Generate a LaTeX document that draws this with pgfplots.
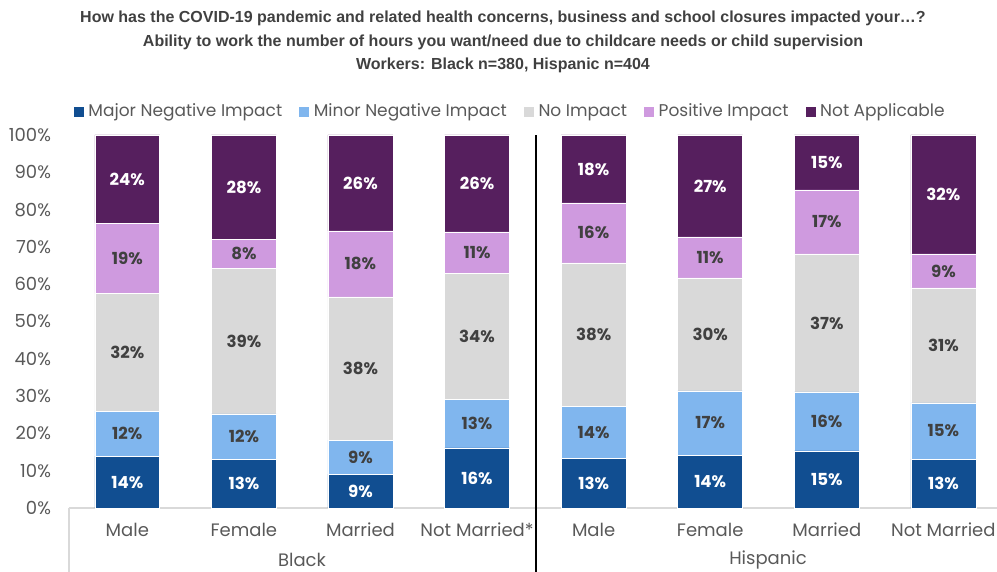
\documentclass[border=0pt]{standalone}
\usepackage{pgfplots}
\pgfplotsset{compat=1.18}
\usepackage{pgfplotstable}
\usepackage{fontspec}
\setmainfont{Poppins}
\newfontfamily\titlefont{Liberation Sans}
\definecolor{majc}{RGB}{17,78,145}
\definecolor{minc}{RGB}{128,182,238}
\definecolor{noc}{RGB}{217,217,217}
\definecolor{posc}{RGB}{207,154,223}
\definecolor{nac}{RGB}{86,31,94}
\definecolor{labgray}{RGB}{89,89,89}
\definecolor{darklab}{RGB}{64,64,64}
\definecolor{axgray}{RGB}{217,217,217}

\pgfplotstableread{
x maj majl mn mnl no nol pos posl na nal
0 13.9 14 12.1 12 31.6 32 18.8 19 23.6 24
1 13.1 13 12.1 12 39.1 39 7.8 8 27.9 28
2 9.1 9 9.1 9 38.4 38 17.7 18 25.7 26
3 16.1 16 13.1 13 33.8 34 11.0 11 26.0 26
4 13.4 13 13.9 14 38.4 38 16.1 16 18.2 18
5 14.2 14 17.2 17 30.3 30 11.0 11 27.3 27
6 15.3 15 15.8 16 37.0 37 17.2 17 14.7 15
7 13.1 13 15.1 15 30.8 31 9.1 9 31.9 32
}\datatbl

\begin{document}
\begin{tikzpicture}[x=0.5pt,y=0.5pt]
\path[use as bounding box] (0,0) rectangle (997,572);
\begin{axis}[
 at={(34.5pt,32pt)}, anchor=south west, scale only axis,
 width=464pt, height=186.5pt,
 xmin=-0.5, xmax=7.46, ymin=0, ymax=100,
 ybar stacked, bar width=0.557,
 axis lines*=left, separate axis lines,
 x axis line style={draw=axgray, line width=1pt},
 y axis line style={draw=none},
 tick style={draw=none},
 xtick={0,...,7},
 xticklabels={Male,Female,Married,Not Married*,Male,Female,Married,Not Married},
 ytick={0,10,...,100},
 yticklabel={\pgfmathprintnumber{\tick}\%},
 /pgf/number format/assume math mode=true,
 ticklabel style={font=\fontsize{9}{10}\selectfont, text=labgray},
 xticklabel style={yshift=-4pt},
 yticklabel style={xshift=-5.5pt},
 nodes near coords={\pgfplotspointmeta\%},
 point meta=explicit symbolic,
 every node near coord/.append style={anchor=center, font=\bfseries\fontsize{8.3}{9}\selectfont, text=darklab},
 legend style={at={(axis description cs:0.476,1.0617)}, anchor=center, legend columns=5, draw=none, fill=none, font=\fontsize{8.5}{10}\selectfont, text=labgray, /tikz/every even column/.append style={column sep=6pt}},
 legend image code/.code={\fill[#1] (0pt,-2.75pt) rectangle (5.5pt,2.75pt);},
 clip=false,
]
\addplot[fill=majc, draw=white, line width=0.3pt, every node near coord/.append style={text=white}] table[x=x, y=maj, meta=majl] {\datatbl};
\addplot[fill=minc, draw=white, line width=0.3pt] table[x=x, y=mn, meta=mnl] {\datatbl};
\addplot[fill=noc, draw=white, line width=0.3pt] table[x=x, y=no, meta=nol] {\datatbl};
\addplot[fill=posc, draw=white, line width=0.3pt] table[x=x, y=pos, meta=posl] {\datatbl};
\addplot[fill=nac, draw=white, line width=0.3pt, every node near coord/.append style={text=white}] table[x=x, y=na, meta=nal] {\datatbl};
\legend{Major Negative Impact, Minor Negative Impact, No Impact, Positive Impact, Not Applicable}
\end{axis}
\draw[axgray, line width=1pt] (69,0) -- (69,64);
\draw[black, line width=1pt] (535.5,0) -- (535.5,437);
\node[font=\fontsize{9}{10}\selectfont, text=labgray] at (302,12) {Black};
\node[font=\fontsize{9}{10}\selectfont, text=labgray] at (768,12) {Hispanic};
\node[font=\titlefont\bfseries\fontsize{8}{9}\selectfont, text=darklab] at (503,554) {How has the COVID-19 pandemic and related health concerns, business and school closures impacted your…?};
\node[font=\titlefont\bfseries\fontsize{8}{9}\selectfont, text=darklab] at (503,530) {Ability to work the number of hours you want/need due to childcare needs or child supervision};
\node[font=\titlefont\bfseries\fontsize{8}{9}\selectfont, text=darklab] at (503,507) {Workers: Black n=380, Hispanic n=404};
\end{tikzpicture}
\end{document}
